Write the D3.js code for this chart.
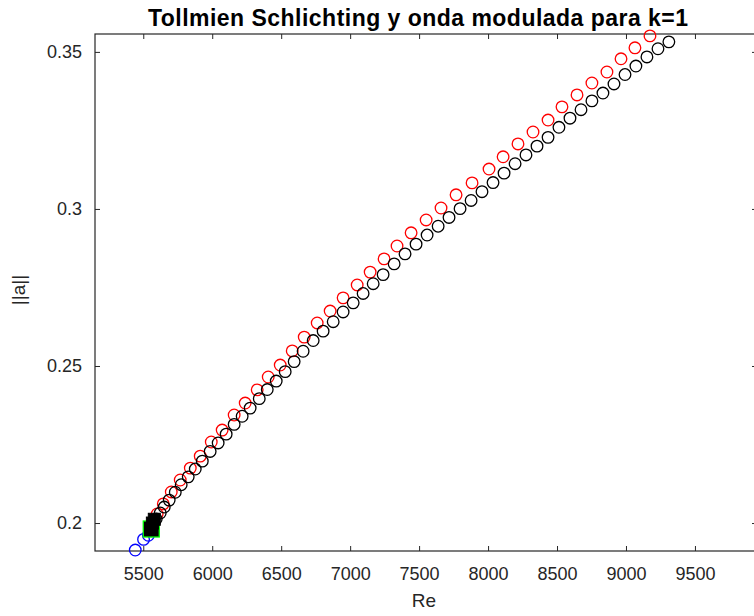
<!DOCTYPE html>
<html>
<head>
<meta charset="utf-8">
<script src="https://cdn.jsdelivr.net/npm/d3@7"></script>
<style>
  html, body { margin: 0; padding: 0; background: #fff; }
  svg { display: block; }
  .tick text { font-family: "Liberation Sans", Arial, sans-serif; font-size: 18px; fill: #262626; }
</style>
</head>
<body>
<script>
// Branch computed with the modulated wave (red circles)
const redRe = [5601, 5645, 5703, 5768, 5841, 5913, 5993, 6072, 6159, 6239, 6326, 6406, 6493,
  6580, 6667, 6761, 6855, 6949, 7051, 7145, 7246, 7340, 7442, 7551, 7659, 7768, 7884, 8007,
  8109, 8217, 8326, 8435, 8536, 8645, 8753, 8862, 8964, 9065, 9174];
const redAmp = [0.2029, 0.2061, 0.2099, 0.2137, 0.2175, 0.2213, 0.2258, 0.2296, 0.2344, 0.2382,
  0.2424, 0.2465, 0.2503, 0.2548, 0.2592, 0.2637, 0.2675, 0.2717, 0.2758, 0.2799, 0.2841,
  0.2882, 0.2924, 0.2965, 0.3003, 0.3045, 0.3083, 0.3127, 0.3166, 0.3207, 0.3245, 0.3283,
  0.3325, 0.3363, 0.3401, 0.3436, 0.3478, 0.3513, 0.3551];

// Tollmien-Schlichting branch (black circles)
const blackRe = [9311, 9232, 9152, 9072, 8993, 8913, 8833, 8753, 8674, 8594, 8514, 8435, 8355,
  8275, 8196, 8116, 8036, 7956, 7877, 7797, 7717, 7638, 7558, 7478, 7398, 7319, 7239, 7167,
  7094, 7022, 6949, 6877, 6804, 6732, 6659, 6594, 6529, 6464, 6399, 6341, 6275, 6217, 6159,
  6101, 6043, 5985, 5928, 5877, 5826, 5775, 5732, 5688, 5652, 5623, 5594];
const blackAmp = [0.3532, 0.3510, 0.3484, 0.3455, 0.3428, 0.3398, 0.3369, 0.3344, 0.3316,
  0.3289, 0.3260, 0.3228, 0.3200, 0.3172, 0.3144, 0.3114, 0.3084, 0.3055, 0.3027, 0.3001,
  0.2973, 0.2945, 0.2917, 0.2888, 0.2857, 0.2825, 0.2791, 0.2762, 0.2731, 0.2701, 0.2672,
  0.2641, 0.2611, 0.2581, 0.2547, 0.2514, 0.2482, 0.2452, 0.2425, 0.2396, 0.2366, 0.2340,
  0.2314, 0.2283, 0.2255, 0.2228, 0.2197, 0.2172, 0.2147, 0.2122, 0.2098, 0.2073, 0.2051,
  0.2032, 0.2013];

// Lower branch (blue circles)
const blueRe = [5442, 5502, 5537, 5560];
const blueAmp = [0.1914, 0.1948, 0.1961, 0.1975];

// Bifurcation point (green-edged square) and filled black squares
const bifRe = [5558];
const bifAmp = [0.1981];
const squareRe = [5566, 5580];
const squareAmp = [0.2000, 0.2012];

const xTicks = [5500, 6000, 6500, 7000, 7500, 8000, 8500, 9000, 9500];
const yTicks = [0.2, 0.25, 0.3, 0.35];
const yTickLabels = ["0.2", "0.25", "0.3", "0.35"];

const W = 754, H = 616;
const mLeft = 95, mRight = 757, mTop = 34, mBottom = 551;

const svg = d3.select("body").append("svg").attr("width", W).attr("height", H);

const x = d3.scaleLinear().domain([5150, 9950]).range([mLeft, mRight]);
const y = d3.scaleLinear().domain([0.1911, 0.3557]).range([mBottom, mTop]);

const axisColor = "#262626";

// box axes with inward ticks on all four sides
const gB = svg.append("g").attr("transform", `translate(0,${mBottom})`)
  .call(d3.axisBottom(x).tickValues(xTicks).tickFormat(d3.format("d")).tickSize(-5).tickSizeOuter(0).tickPadding(16));
const gT = svg.append("g").attr("transform", `translate(0,${mTop})`)
  .call(d3.axisTop(x).tickValues(xTicks).tickFormat("").tickSize(-5).tickSizeOuter(0));
const gL = svg.append("g").attr("transform", `translate(${mLeft},0)`)
  .call(d3.axisLeft(y).tickValues(yTicks).tickFormat((d, i) => yTickLabels[i]).tickSize(-5).tickSizeOuter(0).tickPadding(13));
const gR = svg.append("g").attr("transform", `translate(${mRight},0)`)
  .call(d3.axisRight(y).tickValues(yTicks).tickFormat("").tickSize(-5).tickSizeOuter(0));

[gB, gT, gL, gR].forEach(g => {
  g.select(".domain").remove();
  g.selectAll(".tick line").attr("stroke", axisColor).attr("stroke-width", 1);
});

svg.append("rect")
  .attr("x", mLeft).attr("y", mTop)
  .attr("width", mRight - mLeft).attr("height", mBottom - mTop)
  .attr("fill", "none").attr("stroke", axisColor).attr("stroke-width", 1.2);

const plot = svg.append("g");

function circles(re, amp, color) {
  plot.append("g").selectAll("circle")
    .data(re.map((r, i) => [r, amp[i]]))
    .join("circle")
    .attr("cx", d => x(d[0])).attr("cy", d => y(d[1]))
    .attr("r", 5.8)
    .attr("fill", "none").attr("stroke", color).attr("stroke-width", 1.3);
}

circles(redRe, redAmp, "#ff0000");
circles(blackRe, blackAmp, "#000000");
circles(blueRe, blueAmp, "#0000ff");

plot.append("g").selectAll("rect")
  .data(bifRe.map((r, i) => [r, bifAmp[i]]))
  .join("rect")
  .attr("x", d => x(d[0]) - 8).attr("y", d => y(d[1]) - 8)
  .attr("width", 16).attr("height", 16)
  .attr("fill", "#000").attr("stroke", "#00ff00").attr("stroke-width", 1.3);

plot.append("g").selectAll("rect")
  .data(squareRe.map((r, i) => [r, squareAmp[i]]))
  .join("rect")
  .attr("x", d => x(d[0]) - 6).attr("y", d => y(d[1]) - 6)
  .attr("width", 12).attr("height", 12)
  .attr("fill", "#000").attr("stroke", "#000").attr("stroke-width", 1);

// title and axis labels
svg.append("text")
  .attr("x", 418).attr("y", 26)
  .attr("text-anchor", "middle")
  .attr("font-family", "Liberation Sans, Arial, sans-serif")
  .attr("font-weight", "bold").attr("font-size", 23).attr("fill", "#000")
  .attr("textLength", 540).attr("lengthAdjust", "spacing")
  .text("Tollmien Schlichting y onda modulada para k=1");

svg.append("text")
  .attr("x", 424).attr("y", 607)
  .attr("text-anchor", "middle")
  .attr("font-family", "Liberation Sans, Arial, sans-serif")
  .attr("font-size", 19).attr("fill", axisColor)
  .text("Re");

svg.append("text")
  .attr("transform", "translate(25,290) rotate(-90)")
  .attr("text-anchor", "middle")
  .attr("font-family", "Liberation Sans, Arial, sans-serif")
  .attr("font-size", 19).attr("fill", axisColor)
  .text("||a||");
</script>
</body>
</html>
